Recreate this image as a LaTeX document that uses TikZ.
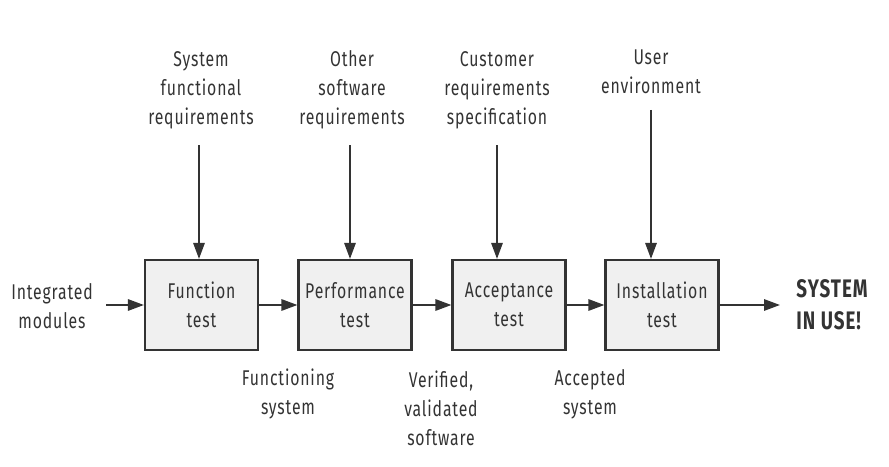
\documentclass[tikz,border=0pt]{standalone}
\usepackage{fontspec}
\setmainfont{Fira Sans}[FakeStretch=0.74,LetterSpace=4]
\usetikzlibrary{arrows.meta}
\definecolor{ink}{HTML}{333333}
\definecolor{boxfill}{HTML}{F0F0F0}
\begin{document}
\begin{tikzpicture}[x=0.75pt,y=-0.75pt,
  every node/.style={font=\fontsize{16}{21.75}\selectfont, text=ink, align=center},
  testbox/.style={draw=ink, line width=1.6pt, fill=boxfill, minimum width=84.75pt, minimum height=67.5pt, inner sep=0pt},
  lbl/.style={inner sep=0pt},
  big/.style={font=\fontsize{19}{24}\selectfont\bfseries, text=ink, align=left, inner sep=0pt},
  flow/.style={draw=ink, line width=1.5pt, -{Triangle[length=12pt,width=8.5pt]}}]
\useasboundingbox (0,0) rectangle (889,467);
\node[testbox] (f) at (201.5,305) {Function\\test};
\node[testbox] (p) at (355,305) {Performance\\test};
\node[testbox] (a) at (509,305) {Acceptance\\test};
\node[testbox] (i) at (662,305) {Installation\\test};
\node[lbl] (im) at (52,306) {Integrated\\modules};
\node[big] (out) at (832,305) {SYSTEM\\IN USE!};
\coordinate (outend) at (780,305);
\coordinate (imr) at (106,305);
\node[lbl] (sf) at (201,90) {System\\functional\\requirements};
\node[lbl] (os) at (352,90) {Other\\software\\requirements};
\node[lbl] (cr) at (497,90) {Customer\\requirements\\specification};
\node[lbl] (ue) at (651,72) {User\\environment};
\node[lbl] (fs) at (288,394) {Functioning\\system};
\node[lbl] (vv) at (441,408) {Verified,\\validated\\software};
\node[lbl] (as) at (590,394) {Accepted\\system};
\coordinate (sfs) at (199,145);
\coordinate (oss) at (350,145);
\coordinate (crs) at (497,145);
\coordinate (ues) at (651,110);
\draw[flow] (imr) -- (f.west);
\draw[flow] (f) -- (p);
\draw[flow] (p) -- (a);
\draw[flow] (a) -- (i);
\draw[flow] (i) -- (outend);
\draw[flow] (sfs) -- (sfs |- f.north);
\draw[flow] (oss) -- (oss |- p.north);
\draw[flow] (crs) -- (crs |- a.north);
\draw[flow] (ues) -- (ues |- i.north);
\end{tikzpicture}
\end{document}
